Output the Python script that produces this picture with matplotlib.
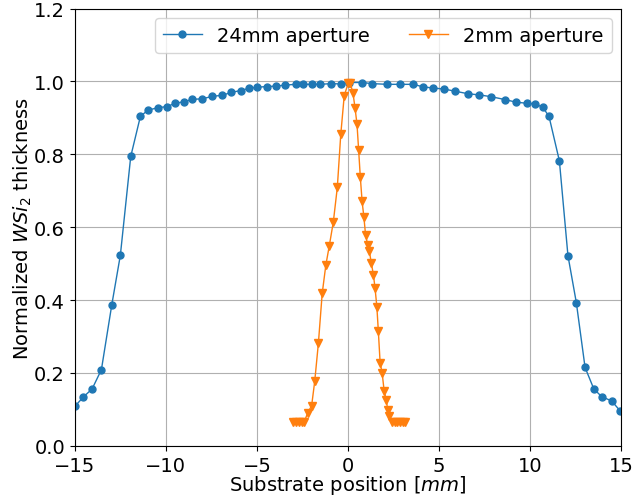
import matplotlib
matplotlib.use("Agg")
import matplotlib.pyplot as plt

# 24mm aperture profile
pos_24mm = [-15.0, -14.53, -14.05, -13.54, -12.97, -12.50, -11.93, -11.40, -10.99, -10.43,
            -9.92, -9.51, -9.0, -8.55, -8.03, -7.45, -6.90, -6.40, -5.89, -5.45,
            -4.98, -4.46, -3.95, -3.44, -2.85, -2.45, -1.97, -1.53, -0.93, -0.40,
            0.06, 0.77, 1.31, 2.13, 2.85, 3.58, 4.12, 4.65, 5.27, 5.89,
            6.60, 7.21, 7.86, 8.63, 9.22, 9.82, 10.28, 10.69, 11.03, 11.60,
            12.07, 12.53, 13.01, 13.49, 13.92, 14.47, 14.95]
thick_24mm = [0.108, 0.134, 0.156, 0.209, 0.387, 0.523, 0.794, 0.904, 0.921, 0.928,
              0.931, 0.940, 0.944, 0.951, 0.952, 0.959, 0.962, 0.970, 0.975, 0.981,
              0.984, 0.986, 0.987, 0.990, 0.992, 0.992, 0.992, 0.992, 0.994, 0.993,
              0.997, 0.997, 0.994, 0.992, 0.992, 0.992, 0.985, 0.982, 0.979, 0.973,
              0.966, 0.963, 0.958, 0.950, 0.943, 0.940, 0.938, 0.929, 0.904, 0.782,
              0.522, 0.393, 0.215, 0.156, 0.135, 0.123, 0.095]

# 2mm aperture profile
pos_2mm = [-3.03, -2.88, -2.72, -2.55, -2.40, -2.22, -2.00, -1.83, -1.63, -1.42,
           -1.22, -1.03, -0.81, -0.59, -0.40, -0.21, 0.02, 0.12, 0.27, 0.38,
           0.49, 0.58, 0.67, 0.77, 0.87, 0.96, 1.08, 1.17, 1.27, 1.39,
           1.48, 1.58, 1.66, 1.76, 1.87, 1.98, 2.09, 2.18, 2.27, 2.40,
           2.55, 2.70, 2.85, 3.00, 3.12]
thick_2mm = [0.064, 0.064, 0.064, 0.064, 0.066, 0.090, 0.110, 0.177, 0.281, 0.418,
             0.496, 0.549, 0.614, 0.709, 0.855, 0.961, 0.997, 0.995, 0.968, 0.928,
             0.883, 0.812, 0.739, 0.671, 0.627, 0.579, 0.551, 0.534, 0.503, 0.470,
             0.433, 0.382, 0.316, 0.228, 0.200, 0.151, 0.127, 0.098, 0.081, 0.066,
             0.064, 0.064, 0.064, 0.064, 0.066]

plt.rcParams["font.size"] = 14

figure, axes = plt.subplots(figsize=(6.34, 5.02), dpi=100)
figure.subplots_adjust(left=0.118, right=0.980, top=0.981, bottom=0.110)

axes.plot(pos_24mm, thick_24mm, marker="o", markersize=5, linewidth=1, label="24mm aperture")
axes.plot(pos_2mm, thick_2mm, marker="v", markersize=6, linewidth=1, label="2mm aperture")

axes.set_xlim(-15, 15)
axes.set_ylim(0, 1.2)
axes.set_xlabel("Substrate position [$mm$]", labelpad=-1)
axes.set_ylabel("Normalized $WSi_2$ thickness", labelpad=0)
axes.grid(True)
axes.legend(loc="upper right", ncol=2)

plt.savefig("out.png")
plt.close()
